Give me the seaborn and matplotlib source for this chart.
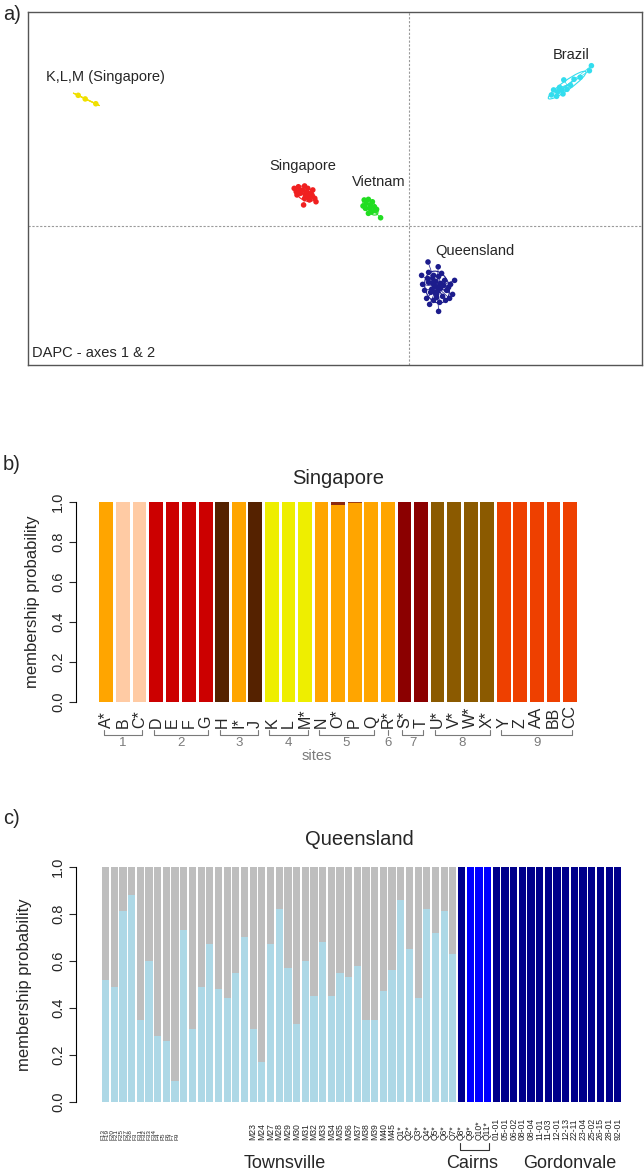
import numpy as np
import pandas as pd
import matplotlib
matplotlib.use("Agg")
import matplotlib.pyplot as plt
from matplotlib.patches import Ellipse
import seaborn as sns

sns.set_style("white")
plt.rcParams["font.family"] = ["Liberation Sans", "DejaVu Sans"]

# ---------------- panel a : DAPC scatter, axes 1 & 2 ----------------
klm_x = [-16.52, -16.17, -15.64]
klm_y = [6.55, 6.37, 6.13]

sing_x = [-5.72, -5.62, -5.51, -5.41, -5.31, -5.20, -5.16, -5.10, -5.00, -4.90,
          -4.79, -4.69, -4.63, -5.25, -4.96, -5.45, -5.04, -4.84, -5.58, -5.20]
sing_y = [1.90, 1.73, 1.98, 1.65, 1.82, 2.02, 1.57, 1.73, 1.48, 1.65,
          1.82, 1.40, 1.23, 1.07, 1.32, 1.78, 1.90, 1.52, 1.57, 1.40]

viet_x = [-2.22, -2.12, -2.01, -1.91, -1.81, -1.95, -1.71, -2.16, -1.85, -1.66,
          -2.01, -1.60, -1.40, -2.28]
viet_y = [1.32, 1.15, 1.35, 1.07, 1.23, 0.90, 0.98, 0.90, 0.73, 0.78,
          0.65, 0.85, 0.43, 1.02]

braz_x = [7.14, 7.25, 7.45, 7.55, 7.72, 7.76, 7.92, 8.27, 8.58, 9.04, 9.14, 7.66, 7.40, 8.10]
braz_y = [6.57, 6.82, 6.73, 6.95, 6.62, 7.32, 6.85, 7.35, 7.45, 7.78, 8.03, 6.82, 6.50, 7.05]

qld_x = [0.97, 1.48, 0.65, 1.00, 1.20, 1.50, 1.80, 2.10, 1.00, 1.30,
         1.60, 1.90, 1.10, 1.40, 1.70, 0.80, 2.20, 1.25, 1.55, 1.50,
         0.90, 2.00, 1.35, 1.60, 1.15, 1.45, 1.75, 0.95, 2.30, 1.05,
         1.85, 0.70, 1.25, 1.65, 2.05, 1.40, 1.20, 1.55, 1.30]
qld_y = [-1.78, -2.02, -2.45, -2.30, -2.60, -2.50, -2.70, -2.90, -2.80, -3.00,
         -3.10, -3.20, -3.30, -3.40, -3.50, -3.20, -3.40, -3.70, -3.80, -4.25,
         -3.60, -3.05, -2.75, -2.85, -3.15, -3.25, -2.95, -2.60, -2.70, -3.90,
         -3.70, -2.90, -2.45, -2.35, -3.60, -3.55, -2.85, -3.00, -3.30]

groups = ["K,L,M (Singapore)", "Singapore", "Vietnam", "Brazil", "Queensland"]
group_x = [klm_x, sing_x, viet_x, braz_x, qld_x]
group_y = [klm_y, sing_y, viet_y, braz_y, qld_y]
group_colors = ["#F0E000", "#F02020", "#22DD22", "#33DDEE", "#1C1C8C"]
# label offset from the group centroid, in points
label_offsets = [(14, 16), (-2, 20), (6, 18), (3, 22), (27, 26)]

# ---------------- panel b : Singapore compoplot ----------------
sing_labels = ["A*", "B", "C*", "D", "E", "F", "G", "H", "I*", "J", "K", "L", "M*",
               "N", "O*", "P", "Q", "R*", "S*", "T", "U*", "V*", "W*", "X*",
               "Y", "Z", "AA", "BB", "CC"]
orange, peach, red, dbrown = "#FFA500", "#FFCBA4", "#CC0000", "#552200"
yellow, dred, brown, redor = "#EEEE00", "#8B0000", "#8B5A00", "#EE4000"
sing_main_col = [orange, peach, peach, red, red, red, red, dbrown, orange, dbrown,
                 yellow, yellow, yellow, orange, orange, orange, orange, orange,
                 dred, dred, brown, brown, brown, brown,
                 redor, redor, redor, redor, redor]
sing_main_p = [1.0, 1.0, 1.0, 1.0, 1.0, 1.0, 1.0, 1.0, 1.0, 1.0, 1.0, 1.0, 1.0,
               1.0, 0.985, 0.996, 1.0, 1.0, 1.0, 1.0, 1.0, 1.0, 1.0, 1.0,
               1.0, 1.0, 1.0, 1.0, 1.0]
sing_minor_col = list(sing_main_col)
sing_minor_col[14] = "#8B2A10"
sing_minor_col[15] = "#A04010"
sites = [("1", 0, 2), ("2", 3, 6), ("3", 7, 9), ("4", 10, 12), ("5", 13, 16),
         ("6", 17, 17), ("7", 18, 19), ("8", 20, 23), ("9", 24, 28)]

# ---------------- panel c : Queensland compoplot ----------------
tv_labels = ["F13", "F19", "F20", "F21", "F25", "F27", "F28", "F3", "F31", "F32",
             "F33", "F34", "F4", "F5", "F6", "F7", "F9",
             "M23", "M24", "M27", "M28", "M29", "M30", "M31", "M32", "M33",
             "M34", "M35", "M36", "M37", "M38", "M39", "M40", "M45",
             "Q1*", "Q2*", "Q3*", "Q4*", "Q5*", "Q6*", "Q7*"]
tv_p = [0.52, 0.49, 0.81, 0.88, 0.35, 0.60, 0.28, 0.26, 0.09, 0.73,
        0.31, 0.49, 0.67, 0.48, 0.44, 0.55, 0.70, 0.31, 0.17, 0.67,
        0.82, 0.57, 0.33, 0.60, 0.45, 0.68, 0.45, 0.55, 0.53, 0.58,
        0.35, 0.35, 0.47, 0.56, 0.86, 0.65, 0.44, 0.82, 0.72, 0.81, 0.63]
ca_labels = ["Q8*", "Q9*", "Q10*", "Q11*"]
ca_p = [1.0, 1.0, 1.0, 1.0]
gv_labels = ["01-01", "05-01", "06-02", "08-01", "08-04", "11-01", "11-03",
             "12-01", "12-13", "22-11", "23-04", "25-02", "26-15", "28-01", "92-01"]
gv_p = [1.0, 1.0, 1.0, 1.0, 1.0, 1.0, 1.0, 1.0, 1.0, 1.0, 1.0, 1.0, 1.0, 1.0, 1.0]

lblue, grey, navy, blue = "#ADD8E6", "#BEBEBE", "#00008B", "#0000FF"
qld_labels = tv_labels + ca_labels + gv_labels
qld_main_p = tv_p + ca_p + gv_p
qld_main_col = [lblue] * len(tv_labels) + [navy, blue, blue, blue] + [navy] * len(gv_labels)
qld_minor_col = [grey] * len(tv_labels) + [navy, blue, blue, blue] + [navy] * len(gv_labels)

# ---------------- figure ----------------
W, H = 644, 1174
fig = plt.figure(figsize=(W / 100, H / 100), dpi=100)


def px_rect(left, top, right, bottom):
    return [left / W, 1 - bottom / H, (right - left) / W, (bottom - top) / H]


# panel a
ax_a = fig.add_axes(px_rect(27.6, 11.7, 642, 365))
df_a = pd.DataFrame({
    "ld1": np.concatenate(group_x),
    "ld2": np.concatenate(group_y),
    "group": np.repeat(groups, [len(g) for g in group_x]),
})
ax_a.axvline(0, color="#9a9a9a", lw=0.8, ls=(0, (2, 1.5)), zorder=1)
ax_a.axhline(0, color="#9a9a9a", lw=0.8, ls=(0, (2, 1.5)), zorder=1)
for gx, gy, col, name, off in zip(group_x, group_y, group_colors, groups, label_offsets):
    gx, gy = np.array(gx), np.array(gy)
    cx, cy = gx.mean(), gy.mean()
    for xi, yi in zip(gx, gy):
        ax_a.plot([cx, xi], [cy, yi], color=col, lw=0.5, zorder=2)
    vals, vecs = np.linalg.eigh(np.cov(gx, gy))
    ang = np.degrees(np.arctan2(vecs[1, 1], vecs[0, 1]))
    ax_a.add_patch(Ellipse((cx, cy), 2 * 1.5 * np.sqrt(max(vals[1], 1e-6)),
                           2 * 1.5 * np.sqrt(max(vals[0], 1e-6)), angle=ang,
                           fill=False, edgecolor=col, lw=0.8, zorder=2))
    ax_a.annotate(name, (cx, cy), xytext=off, textcoords="offset points",
                  ha="center", va="center", fontsize=10.5)
sns.scatterplot(data=df_a, x="ld1", y="ld2", hue="group", palette=group_colors,
                hue_order=groups, s=16, linewidth=0, legend=False, ax=ax_a, zorder=3)
ax_a.set_xlim(-19.05, 11.67)
ax_a.set_ylim(-6.93, 10.73)
ax_a.set_xticks([])
ax_a.set_yticks([])
ax_a.set_xlabel("")
ax_a.set_ylabel("")
for s in ax_a.spines.values():
    s.set_color("#555555")
    s.set_linewidth(1.0)
ax_a.text(0.007, 0.035, "DAPC - axes 1 & 2", transform=ax_a.transAxes,
          ha="left", va="center", fontsize=10.5)


def r_style(ax, ylab_x):
    for s in ["top", "right", "bottom"]:
        ax.spines[s].set_visible(False)
    ax.spines["left"].set_bounds(0, 1)
    ax.spines["left"].set_color("black")
    ax.spines["left"].set_linewidth(0.8)
    ax.set_yticks([0, 0.2, 0.4, 0.6, 0.8, 1.0])
    ax.set_yticklabels(["0.0", "0.2", "0.4", "0.6", "0.8", "1.0"],
                       rotation=90, va="center", fontsize=10.5)
    ax.tick_params(axis="y", length=5, width=0.8, pad=3, direction="out", left=True)
    ax.set_xticks([])
    ax.set_xlabel("")
    ax.set_ylabel("membership probability", fontsize=12)
    ax.yaxis.set_label_coords(ylab_x, 0.5)
    ax.set_ylim(-0.04, 1.04)


def stacked_bars(ax, labels, main_p, main_col, minor_col):
    total = [1.0 for _ in labels]
    sns.barplot(x=labels, y=total, hue=labels, palette=minor_col, order=labels,
                hue_order=labels, width=0.83, saturation=1, errorbar=None,
                legend=False, linewidth=0, ax=ax)
    sns.barplot(x=labels, y=main_p, hue=labels, palette=main_col, order=labels,
                hue_order=labels, width=0.83, saturation=1, errorbar=None,
                legend=False, linewidth=0, ax=ax)


# panel b
ax_b = fig.add_axes(px_rect(76, 494, 600.3, 710))
stacked_bars(ax_b, sing_labels, sing_main_p, sing_main_col, sing_minor_col)
r_style(ax_b, -0.069)
ax_b.set_xlim(-1.83, 29.83)
ax_b.set_title("Singapore", fontsize=14.5, pad=7)
for i, lab in enumerate(sing_labels):
    ax_b.text(i, -0.13, lab, rotation=90, ha="center", va="bottom",
              fontsize=11.5, clip_on=False)
site_grey = "#7a7a7a"
for name, i0, i1 in sites:
    a, b = i0 - 0.15, i1 + 0.15
    if i0 == i1:
        ax_b.plot([i0, i0], [-0.14, -0.165], color=site_grey, lw=0.8, clip_on=False)
    else:
        ax_b.plot([a, a, b, b], [-0.14, -0.165, -0.165, -0.14], color=site_grey,
                  lw=0.8, clip_on=False)
    ax_b.text((i0 + i1) / 2, -0.175, name, ha="center", va="top", fontsize=9.5,
              color=site_grey, clip_on=False)
ax_b.text(12.73, -0.27, "sites", ha="center", va="center", fontsize=10.5,
          color=site_grey, clip_on=False)

# panel c
ax_c = fig.add_axes(px_rect(76, 857.3, 643, 1111.4))
stacked_bars(ax_c, qld_labels, qld_main_p, qld_main_col, qld_minor_col)
r_style(ax_c, -0.078)
ax_c.set_xlim(-3.41, 61.9)
ax_c.set_title("Queensland", fontsize=14.5, pad=9)
n_f = 17
lab_pos = np.concatenate([np.linspace(-0.35, 8.2, n_f), np.arange(n_f, len(qld_labels))])
for k, (xp, lab) in enumerate(zip(lab_pos, qld_labels)):
    ax_c.text(xp, -0.161, lab, rotation=90, ha="center", va="bottom",
              fontsize=4.6 if k < n_f else 6.2, clip_on=False)
n_tv, n_ca = len(tv_labels), len(ca_labels)
ca0, ca1 = n_tv - 0.2, n_tv + n_ca - 1 + 0.2
ax_c.plot([ca0, ca0, ca1, ca1], [-0.174, -0.204, -0.204, -0.174], color="#333333",
          lw=0.8, clip_on=False)
ax_c.text(20.6, -0.263, "Townsville", ha="center", va="center", fontsize=13, clip_on=False)
ax_c.text(42.2, -0.263, "Cairns", ha="center", va="center", fontsize=13, clip_on=False)
ax_c.text(53.5, -0.263, "Gordonvale", ha="center", va="center", fontsize=13, clip_on=False)

# panel letters
fig.text(12 / W, 1 - 15 / H, "a)", ha="center", va="center", fontsize=14.5)
fig.text(12 / W, 1 - 465 / H, "b)", ha="center", va="center", fontsize=14.5)
fig.text(12 / W, 1 - 819 / H, "c)", ha="center", va="center", fontsize=14.5)

fig.savefig("out.png", dpi=100)
